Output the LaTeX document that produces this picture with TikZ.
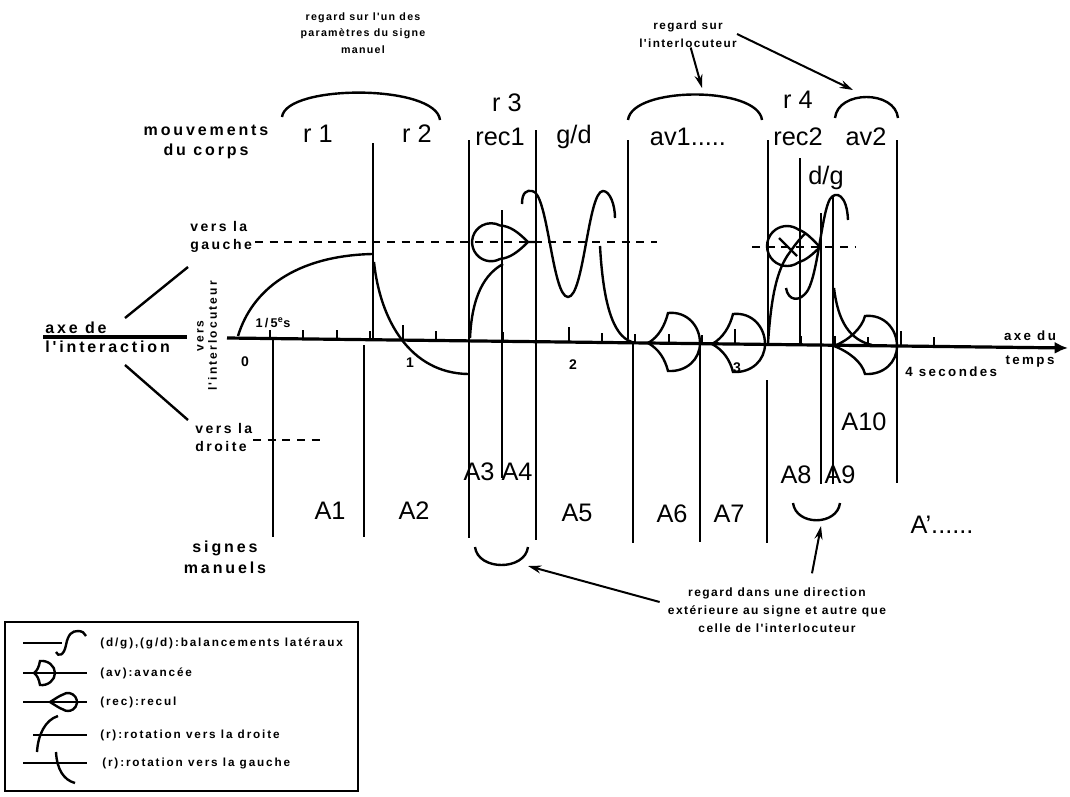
\documentclass[tikz,border=0pt]{standalone}
\usepackage{fontspec}
\setmainfont{Liberation Sans}
\newfontfamily\labf{Liberation Sans}[UprightFont={* Bold}, LetterSpace=18]
\newfontfamily\tinyf{Liberation Sans}[UprightFont={* Bold}, LetterSpace=12]
\newfontfamily\legf{Liberation Sans}[UprightFont={* Bold}, LetterSpace=16]
\usetikzlibrary{arrows.meta,calc}
\tikzset{
  big/.style={font=\fontsize{19}{22}\selectfont, inner sep=0pt},
  lab/.style={font=\labf\fontsize{12}{15.5}\selectfont, inner sep=0pt, align=center},
  labs/.style={font=\labf\fontsize{10.5}{13.5}\selectfont, inner sep=0pt, align=left},
  tinyl/.style={font=\tinyf\fontsize{8}{12.8}\selectfont, inner sep=0pt, align=center},
  legl/.style={font=\legf\fontsize{8.8}{12}\selectfont, inner sep=0pt, anchor=west},
  vl/.style={line width=1.5pt},
  crv/.style={line width=1.8pt},
  axisl/.style={line width=2.4pt},
  arr/.style={line width=1.5pt, -{Stealth[length=10pt,width=6pt]}},
  dsh/.style={line width=1.5pt, dash pattern=on 6pt off 5pt},
}
\begin{document}
\begin{tikzpicture}[x=0.75pt,y=-0.75pt]
\useasboundingbox (0,0) rectangle (1070,796);
\fill[white] (0,0) rectangle (1070,796);

% ---------- time axis ----------
\coordinate (axL) at (227,338);
\coordinate (axR) at (1068,348);
\draw[axisl, -{Latex[length=10pt,width=9pt]}] (axL) -- (axR);
\coordinate (iaL) at (43,337);
\coordinate (iaR) at (187,337);
\draw[axisl] (iaL) -- (iaR);
\foreach \t in {1,...,21}{
  \pgfmathsetmacro{\xx}{237+33.2*\t}
  \pgfmathsetmacro{\yy}{338+(\xx-227)*0.01189}
  \pgfmathsetmacro{\hh}{mod(\t,5)==0 ? 15 : 9}
  \draw[line width=1.5pt] (\xx,\yy) -- (\xx,\yy-\hh);
}
\node[labs] (n0) at (245,362) {0};
\node[labs] (n1) at (410,363) {1};
\node[labs] (n2) at (573,365) {2};
\node[labs] (n3) at (737,368) {3};
\node[labs, anchor=west, font=\labf\fontsize{10}{12}\selectfont] (sec) at (905,372) {4 secondes};
\node[labs, align=center, font=\labf\fontsize{10}{18.5}\selectfont] (axT) at (1030,349) {axe du\\temps};
\node[labs, font=\labf\fontsize{9.5}{12}\selectfont] (fifth) at (273,323) {1/5\textsuperscript{e}s};

% ---------- vertical separators ----------
\draw[vl] (373,143) -- (373,338);
\draw[vl] (364,345) -- (364,537);
\draw[vl] (273,338) -- (273,537);
\draw[vl] (469,140) -- (469,538);
\draw[vl] (502,210) -- (502,478);
\draw[vl] (536,130) -- (536,540);
\draw[vl] (628,140) -- (628,339);
\draw[vl] (633,343) -- (633,543);
\draw[vl] (700,345) -- (700,542);
\draw[vl] (768,140) -- (768,345);
\draw[vl] (767,380) -- (767,543);
\draw[vl] (800,158) -- (800,345);
\draw[vl] (821,213) -- (821,484);
\draw[vl] (833,195) -- (833,484);
\draw[vl] (897,140) -- (897,483);

% ---------- dashed reference lines ----------
\draw[dsh] (255,242) -- (657,242);
\draw[dsh] (752,247) -- (855,247);
\draw[dsh] (253,440) -- (323,440);

% ---------- movement curves ----------
% r1
\draw[crv] (238,336) .. controls (252,290) and (295,256) .. (372,254);
% r2
\draw[crv] (374,262) .. controls (380,320) and (410,373) .. (468,374);
% r3
\draw[crv] (470,338) .. controls (472,295) and (485,274) .. (503,264);
% rec1
\draw[crv] (528,242) .. controls (518,252) and (510,258) .. (500,259)
  arc[start angle=62,end angle=298,radius=19]
  .. controls (510,226) and (518,232) .. (528,242) -- (537,242);
% g/d
\draw[crv] (522,204) .. controls (522,192) and (527,190) .. (532,191)
  .. controls (548,191) and (552,297) .. (568,297)
  .. controls (584,297) and (588,191) .. (603,191)
  .. controls (610,191) and (615,205) .. (615,218);
\draw[crv] (600,246) .. controls (603,300) and (612,336) .. (632,342);
% av shapes
\foreach \cx/\cy/\L in {675/343/-27, 740/344/-28, 872/346/-38}{
  \draw[crv] (\cx+\L,\cy) .. controls (\cx+0.6*\L,\cy-6) and (\cx-10,\cy-18) .. (\cx-7,\cy-30)
    .. controls (\cx+12,\cy-32) and (\cx+25,\cy-17) .. (\cx+25,\cy)
    .. controls (\cx+25,\cy+16) and (\cx+12,\cy+29) .. (\cx-7,\cy+28)
    .. controls (\cx-10,\cy+16) and (\cx+0.6*\L,\cy+6) .. (\cx+\L,\cy);
}
% r4
\draw[crv] (768,343) .. controls (771,300) and (776,270) .. (790,252)
  .. controls (795,245) and (800,238) .. (806,233);
\draw[crv] (779,238) -- (797,256);
% rec2
\draw[crv] (820,247) .. controls (812,255) and (806,260) .. (798.5,262.4)
  arc[start angle=55,end angle=305,radius=20]
  .. controls (806,232) and (812,239) .. (820,247);
% d/g
\draw[crv] (786,288) .. controls (788,301) and (800,303) .. (808,290)
  .. controls (818,272) and (822,212) .. (830,199)
  .. controls (836,190) and (847,195) .. (848,220);
\draw[crv] (834,288) .. controls (838,322) and (850,340) .. (872,345);

% ---------- brackets ----------
\draw[crv] (282,117) .. controls (286,84) and (436,84) .. (440,120);
\draw[crv] (628,120) .. controls (632,86) and (758,86) .. (762,120);
\draw[crv] (835,118) .. controls (838,90) and (895,90) .. (898,118);
\draw[crv] (475,547) .. controls (478,571) and (525,571) .. (528,547);
\coordinate (cupA) at (528,566);
\draw[crv] (793,503) .. controls (796,526) and (837,526) .. (840,503);
\coordinate (cupB) at (821,526);

% ---------- labels: movements ----------
\node[big] (r1) at (318,134) {r 1};
\node[big] (r2) at (417,134) {r 2};
\node[big] (r3) at (507,103) {r 3};
\node[big] (rec1) at (500,137) {rec1};
\node[big] (gd) at (574,137) {g/d};
\node[big] (av1) at (688,137) {av1.....};
\node[big] (r4) at (798,100) {r 4};
\node[big] (rec2) at (798,137) {rec2};
\node[big] (av2) at (866,137) {av2};
\node[big] (dg) at (826,178) {d/g};

% ---------- labels: manual signs ----------
\node[big] (A1) at (330,511) {A1};
\node[big] (A2) at (414,511) {A2};
\node[big] (A3) at (479,472) {A3};
\node[big] (A4) at (517,472) {A4};
\node[big] (A5) at (577,513) {A5};
\node[big] (A6) at (672,514) {A6};
\node[big] (A7) at (729,514) {A7};
\node[big] (A8) at (796,475) {A8};
\node[big] (A9) at (840,475) {A9};
\node[big] (A10) at (864,422) {A10};
\node[big] (Ap) at (942,525) {A'......};

% ---------- left-hand labels ----------
\node[lab] (mvt) at (206,142) {mouvements\\du corps};
\node[lab] (sgn) at (225,557) {signes\\manuels};
\node[lab, align=left, anchor=west, font=\labf\fontsize{12}{14.3}\selectfont] (axI) at (45,337) {axe de\\l'interaction};
\node[labs, anchor=west] (vg) at (190,237) {vers la\\gauche};
\node[labs, anchor=west] (vd) at (195,437) {vers la\\droite};
\node[labs, align=center, rotate=90, font=\labf\fontsize{9}{10}\selectfont] (vi) at (207,336) {vers\\l'interlocuteur};
\coordinate (dgA) at (125,318);
\coordinate (dgB) at (188,267);
\coordinate (ddA) at (125,365);
\coordinate (ddB) at (188,420);
\draw[line width=1.8pt] (dgA) -- (dgB);
\draw[line width=1.8pt] (ddA) -- (ddB);

% ---------- annotations ----------
\node[tinyl, font=\tinyf\fontsize{8}{12.4}\selectfont] (regP) at (363,33) {regard sur l'un des\\paramètres du signe\\manuel};
\node[tinyl, font=\tinyf\fontsize{8.8}{13.5}\selectfont] (regI) at (688,34) {regard sur\\l'interlocuteur};
\coordinate (avT) at (702,88);
\coordinate (av2T) at (853,90);
\draw[arr] ([xshift=2pt]regI.south) -- (avT);
\draw[arr] (regI.east) -- (av2T);
\node[tinyl, font=\tinyf\fontsize{9}{13.5}\selectfont] (regD) at (777,610) {regard dans une direction\\extérieure au signe et autre que\\celle de l'interlocuteur};
\draw[arr] ([xshift=-6pt,yshift=6pt]regD.west) -- (cupA);
\draw[arr] ($(regD.north)+(35,-14)$) -- (cupB);

% ---------- legend ----------
\draw[line width=1.5pt] (5,622) rectangle (358,791);
\draw[crv] (23,643) -- (62,643);
\draw[crv] (56,652) .. controls (58,657) and (64,656) .. (66,645)
  .. controls (68,634) and (72,631) .. (78,631) .. controls (82,631) and (85,633) .. (86,636);
\draw[crv] (23,673) -- (87,673);
\draw[crv] (34,673) .. controls (37,671) and (39,667) .. (40,661)
  .. controls (48,660) and (55,666) .. (55,673)
  .. controls (55,680) and (48,686) .. (40,685)
  .. controls (39,679) and (37,675) .. (34,673);
\draw[crv] (23,702) -- (87,702);
\draw[crv] (50,702) .. controls (55,699) and (59,696) .. (62.8,694.6)
  arc[start angle=235,end angle=485,radius=9]
  .. controls (59,708) and (55,705) .. (50,702);
\draw[crv] (33,735) -- (87,735);
\draw[crv] (37,752) .. controls (38,735) and (45,720) .. (58,716);
\draw[crv] (23,763) -- (87,763);
\draw[crv] (56,752) .. controls (57,770) and (64,780) .. (75,783);
\node[legl] (lg1) at (100,643) {(d/g),(g/d):balancements latéraux};
\node[legl] (lg2) at (100,673) {(av):avancée};
\node[legl] (lg3) at (100,702) {(rec):recul};
\node[legl] (lg4) at (100,735) {(r):rotation vers la droite};
\node[legl] (lg5) at (102,763) {(r):rotation vers la gauche};
\end{tikzpicture}
\end{document}
